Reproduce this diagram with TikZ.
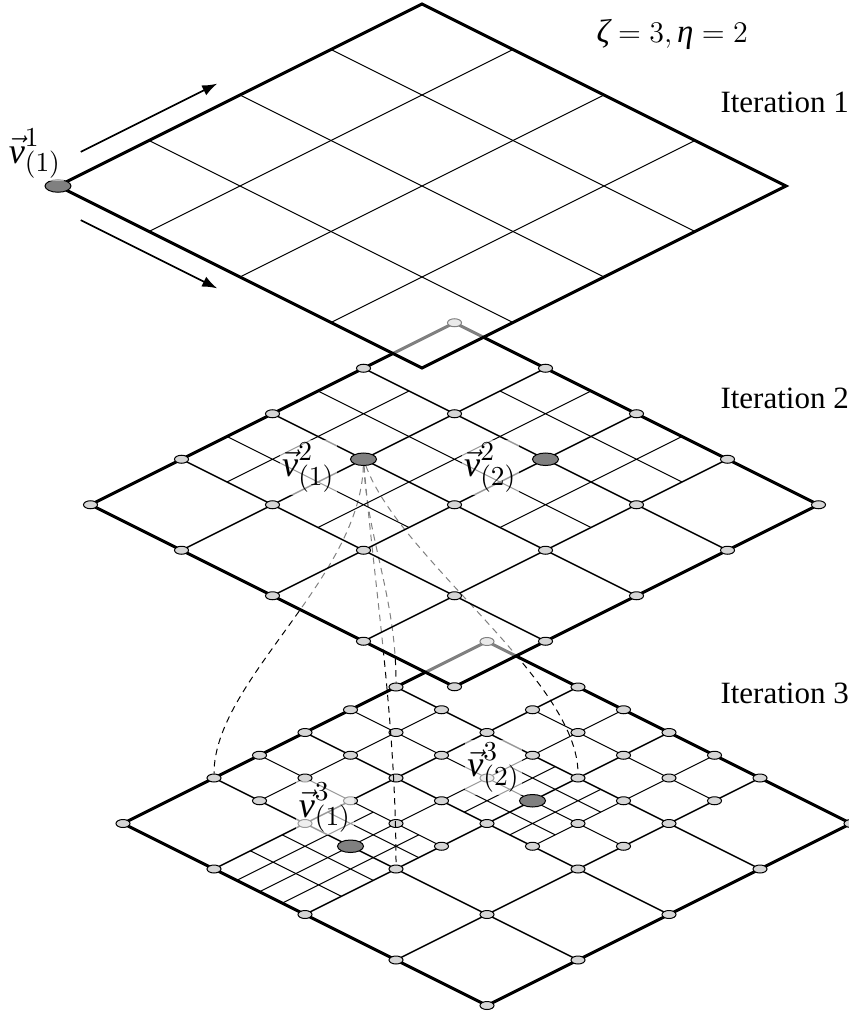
\documentclass[tikz,border=0pt]{standalone}
\usepackage{fontspec}
\setmainfont{Liberation Serif}
\usepackage{tikz}
\usetikzlibrary{positioning, arrows.meta, shapes.geometric}
\definecolor{meshgray}{HTML}{D6D6D6}
\definecolor{hotgray}{HTML}{808080}
\DeclareMathSizes{14.5}{14.5}{11}{8}
\pgfdeclarelayer{under}
\pgfsetlayers{under,main}

\begin{document}
\begin{tikzpicture}[x=0.4pt, y=-0.4pt, font=\fontsize{12.4}{15}\selectfont,
    sheet/.style={shift={#1}, x={(36.4pt,18.2pt)}, y={(36.4pt,-18.2pt)}},
    veil/.style={fill=white, fill opacity=0.5},
    rim/.style={line width=1.2pt},
    coarse/.style={line width=0.55pt},
    fine/.style={line width=0.4pt},
    meshpt/.style={draw, ellipse, fill=meshgray, line width=0.4pt, inner sep=0pt,
                   minimum width=5.6pt, minimum height=3.2pt},
    hotpt/.style={draw, ellipse, fill=hotgray, line width=0.4pt, inner sep=0pt,
                  minimum width=10.4pt, minimum height=5pt},
    tag/.style={fill=white, fill opacity=0.6, text opacity=1, inner sep=1pt,
                font=\fontsize{14.5}{17}\selectfont},
    caption/.style={anchor=base west, inner sep=0pt},
    link/.style={line width=0.4pt, dash pattern=on 2.6pt off 2pt},
    flow/.style={line width=0.7pt, -{Latex[length=6pt, width=4.4pt]}}]
  \useasboundingbox (0,0) rectangle (848,1012);

  % iteration 3 (bottom sheet)
  \begin{pgfonlayer}{under}
    \begin{scope}[sheet={(123,823.5)}]
      \fill[veil] (0,0) -- (4,0) -- (4,4) -- (0,4) -- cycle;
      \foreach \k in {1,2,3}
        \draw[coarse] (\k,0) -- (\k,4) (0,\k) -- (4,\k);
      \draw[fine] (1.5,0) -- (1.5,2) (2.5,0) -- (2.5,3) (3.5,1) -- (3.5,3)
                  (1,0.5) -- (3,0.5) (0,1.5) -- (4,1.5) (2,2.5) -- (4,2.5);
      \draw[fine] (0,1.25) -- (1.5,1.25) (0,1.75) -- (1.5,1.75)
                  (0.4,1) -- (0.4,2) (0.75,1) -- (0.75,2) (1.25,1) -- (1.25,2)
                  (2,1.75) -- (3,1.75) (2,2.25) -- (3,2.25)
                  (2.25,1.5) -- (2.25,2.5) (2.75,1.5) -- (2.75,2.5);
      \draw[rim] (0,0) -- (4,0) -- (4,4) -- (0,4) -- cycle;
      \foreach \a in {0,2,...,8}
        \foreach \b in {0,2,...,8}
          \node[meshpt] (c3-\a-\b) at (\a/2,\b/2) {};
      \foreach \a/\b in {3/0, 5/0, 2/1, 3/1, 4/1, 5/1, 6/1, 3/2, 5/2, 7/2,
                         3/3, 4/3, 5/3, 6/3, 7/3, 8/3, 3/4, 7/4,
                         4/5, 5/5, 6/5, 7/5, 8/5, 5/6, 7/6}
        \node[meshpt] (c3-\a-\b) at (\a/2,\b/2) {};
      \node[hotpt] (h3a) at (1,1.5) {};
      \node[hotpt] (h3b) at (2.5,2) {};
    \end{scope}
    \node[tag, above=1.5pt of h3a, xshift=-10.2pt] (l3a) {$\vec{\mbox{\itshape v}}^{3}_{(1)}$};
    \node[tag, above=-0.5pt of h3b, xshift=-15.6pt] (l3b) {$\vec{\mbox{\itshape v}}^{3}_{(2)}$};
  \end{pgfonlayer}

  % iteration 2
  \begin{scope}[sheet={(90.5,504.75)}]
    \fill[veil] (0,0) -- (4,0) -- (4,4) -- (0,4) -- cycle;
    \foreach \k in {1,2,3}
      \draw[coarse] (\k,0) -- (\k,4) (0,\k) -- (4,\k);
    \draw[fine] (1.5,0) -- (1.5,2) (2.5,0) -- (2.5,3) (3.5,1) -- (3.5,3)
                (1,0.5) -- (3,0.5) (1,1.5) -- (4,1.5) (2,2.5) -- (4,2.5);
    \draw[rim] (0,0) -- (4,0) -- (4,4) -- (0,4) -- cycle;
    \foreach \u in {0,...,4}
      \foreach \v in {0,...,4}
        \node[meshpt] (c2-\u-\v) at (\u,\v) {};
    \node[hotpt] (h2a) at (2,1) {};
    \node[hotpt] (h2b) at (3,2) {};
  \end{scope}
  \node[tag, left=5pt of h2a, yshift=-3.3pt] (l2a) {$\vec{\mbox{\itshape v}}^{2}_{(1)}$};
  \node[tag, left=5pt of h2b, yshift=-3.3pt] (l2b) {$\vec{\mbox{\itshape v}}^{2}_{(2)}$};

  % links between iterations 2 and 3
  \begin{pgfonlayer}{under}
    \draw[link] (h2a) .. controls +(-3.5,120) and +(0,-97) .. (c3-2-0);
    \draw[link] (h2a) .. controls +(4,80) and +(0,-90) .. (c3-6-0);
    \draw[link] (h2a) .. controls +(10,120) and +(0,-150) .. (c3-2-4);
    \draw[link] (h2a) .. controls +(36.5,100) and +(0,-98) .. (c3-6-4);
  \end{pgfonlayer}

  % iteration 1 (top sheet)
  \begin{scope}[sheet={(58,186)}]
    \fill[veil] (0,0) -- (4,0) -- (4,4) -- (0,4) -- cycle;
    \foreach \k in {1,2,3}
      \draw[fine] (\k,0) -- (\k,4) (0,\k) -- (4,\k);
    \draw[rim] (0,0) -- (4,0) -- (4,4) -- (0,4) -- cycle;
    \node[hotpt] (h1) at (0,0) {};
    \coordinate (up0) at (0.5,-0.25);
    \coordinate (up1) at (2,-0.25);
    \coordinate (dn0) at (-0.25,0.5);
    \coordinate (dn1) at (-0.25,2);
  \end{scope}
  \draw[flow] (up0) -- (up1);
  \draw[flow] (dn0) -- (dn1);
  \node[tag, above=-1pt of h1, xshift=-9.2pt] (l1) {$\vec{\mbox{\itshape v}}^{1}_{(1)}$};

  % captions
  \node[caption, font=\fontsize{13.2}{16}\selectfont] (par) at (596,42.7) {$\mbox{\itshape ζ} = 3, \mbox{\itshape η} = 2$};
  \node[caption] (it1) at (720,113) {Iteration 1};
  \node[caption] (it2) at (720,408.3) {Iteration 2};
  \node[caption] (it3) at (720,703.3) {Iteration 3};
\end{tikzpicture}
\end{document}
